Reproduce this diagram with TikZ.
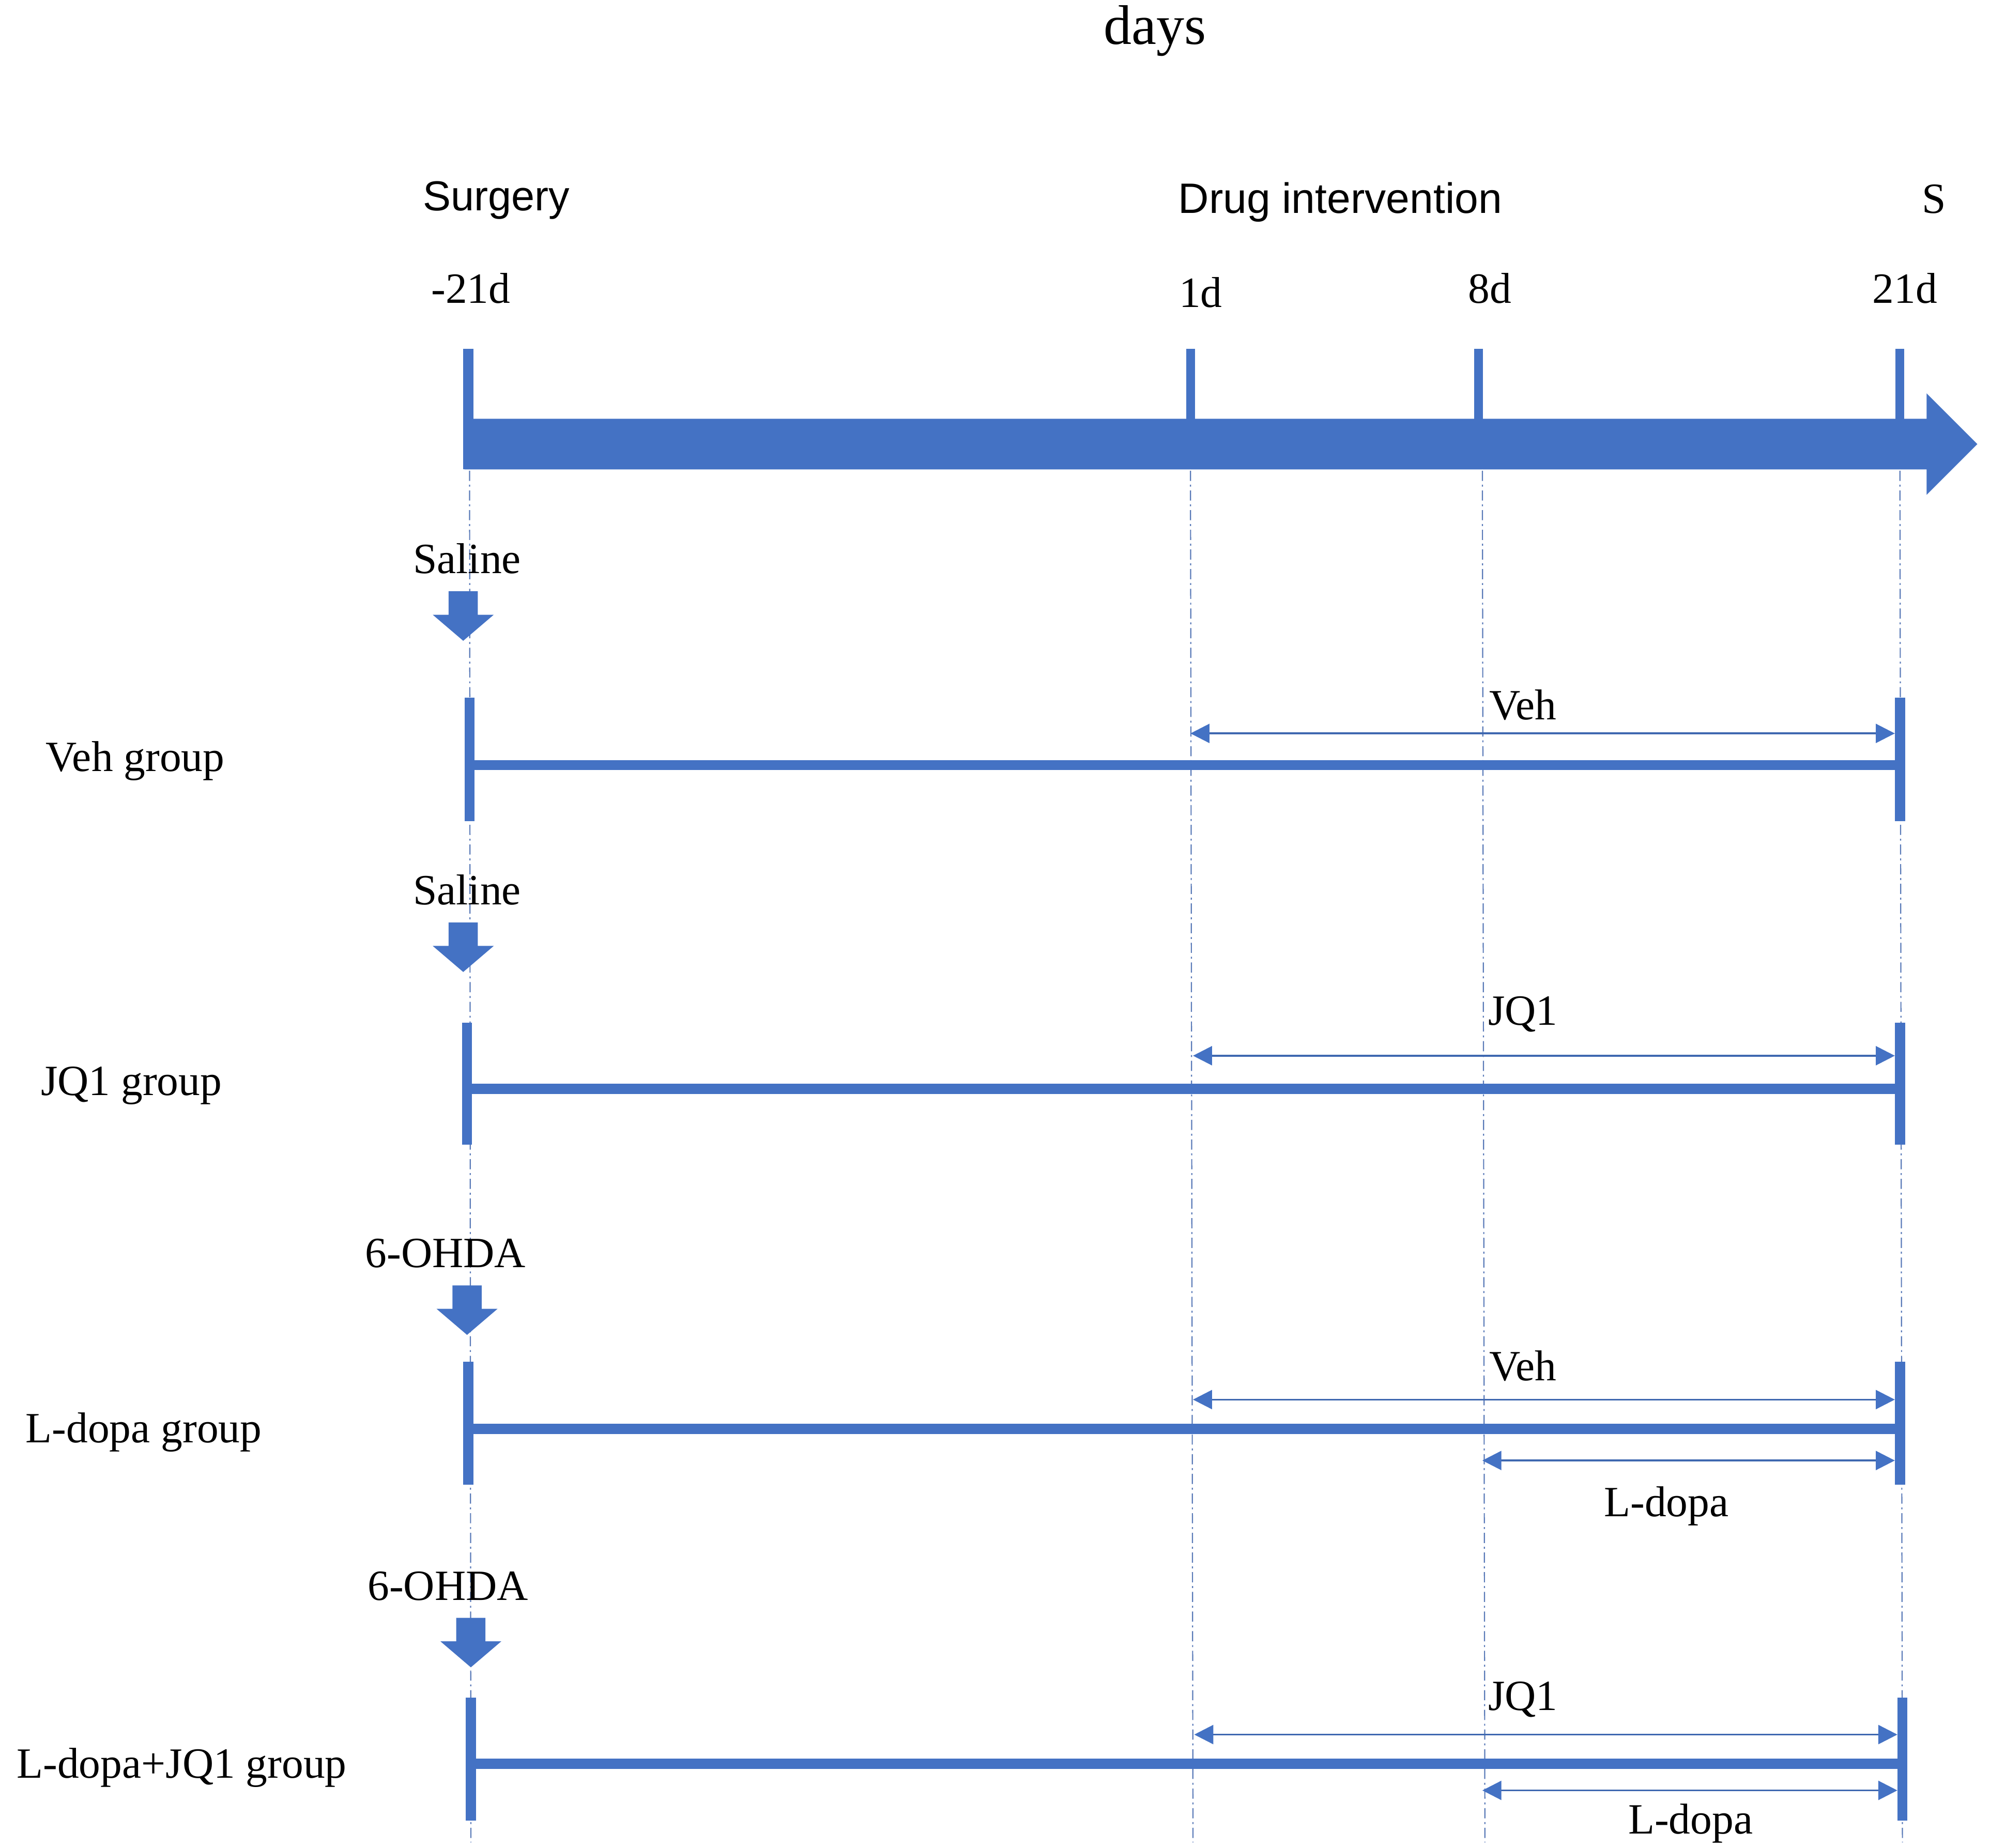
\documentclass[tikz,border=0pt]{standalone}
\usepackage{fontspec}
\setmainfont{Liberation Serif}
\newfontfamily\sansf{Liberation Sans}
\usetikzlibrary{arrows.meta}
\definecolor{tlblue}{HTML}{4472C4}
\definecolor{guidec}{HTML}{5B7BB8}
\definecolor{spanc}{HTML}{3F68B0}
\begin{document}
\begin{tikzpicture}[x=1pt,y=-1pt,
 txt/.style={font=\fontsize{34}{40}\selectfont, inner sep=0pt, anchor=base},
 bigtxt/.style={font=\fontsize{44}{52}\selectfont, inner sep=0pt, anchor=base},
 stxt/.style={font=\sansf\fontsize{33}{40}\selectfont, inner sep=0pt, anchor=base},
 guide/.style={draw=guidec, line width=0.9pt, dash pattern=on 8pt off 3pt on 1.5pt off 3pt},
 bar/.style={draw=tlblue, line width=8pt},
 tickmark/.style={draw=tlblue, line width=8pt},
 maintick/.style={draw=tlblue, line width=7pt},
 span/.style={draw=spanc, line width=1.4pt, {Triangle[length=15pt,width=15pt,fill=tlblue,color=tlblue]}-{Triangle[length=15pt,width=15pt,fill=tlblue,color=tlblue]}},
 downarr/.pic={\fill[tlblue] (-11.5,0) -- (11.5,0) -- (11.5,18.5) -- (24,18.5) -- (0,39) -- (-24,18.5) -- (-11.5,18.5) -- cycle;}
]
\useasboundingbox (0,0) rectangle (1568,1456);

% title and header labels
\node[bigtxt] (days) at (910,35) {days};
\node[stxt] (surg) at (391,166) {Surgery};
\node[stxt, font=\sansf\fontsize{33.5}{40}\selectfont] (drug) at (1056,168) {Drug intervention};
\node[txt] (S) at (1524,168) {S};
\node[txt] (dm21) at (371,239) {-21d};
\node[txt] (d1) at (946,242) {1d};
\node[txt] (d8) at (1174,239) {8d};
\node[txt] (d21) at (1501,239) {21d};

% main time arrow
\fill[tlblue] (366,330) -- (1518,330) -- (1518,310) -- (1558,350) -- (1518,390) -- (1518,370) -- (366,370) -- cycle;
\fill[tlblue] (365,275) rectangle (373,370);
\draw[maintick] (938,275) -- (938,331);
\draw[maintick] (1165,275) -- (1165,331);
\draw[maintick] (1497,275) -- (1497,331);

% vertical guide lines
\coordinate (vA1) at (370,371); \coordinate (vA2) at (371,1452);
\coordinate (vB1) at (938,371); \coordinate (vB2) at (940,1452);
\coordinate (vC1) at (1168,371); \coordinate (vC2) at (1170,1452);
\coordinate (vD1) at (1497,371); \coordinate (vD2) at (1499,1452);
\draw[guide] (vA1) -- (vA2);
\draw[guide] (vB1) -- (vB2);
\draw[guide] (vC1) -- (vC2);
\draw[guide] (vD1) -- (vD2);

% ---- Veh group
\node[txt] (sal1) at (368,452) {Saline};
\pic at (365,466) {downarr};
\node[txt, anchor=base west] (g1lab) at (36,608) {Veh group};
\coordinate (g1l) at (370,603); \coordinate (g1r) at (1497,603);
\draw[bar] (g1l) -- (g1r);
\draw[tickmark] (370,550) -- (370,647);
\draw[tickmark] (1497,550) -- (1497,647);
\coordinate (g1a) at (938,578); \coordinate (g1b) at (1493,578);
\draw[span] (g1a) -- (g1b);
\node[txt] (g1veh) at (1200,567) {Veh};

% ---- JQ1 group
\node[txt] (sal2) at (368,713) {Saline};
\pic at (365,727) {downarr};
\node[txt, anchor=base west] (g2lab) at (32,863) {JQ1 group};
\coordinate (g2l) at (368,858); \coordinate (g2r) at (1497,858);
\draw[bar] (g2l) -- (g2r);
\draw[tickmark] (368,806) -- (368,902);
\draw[tickmark] (1497,806) -- (1497,902);
\coordinate (g2a) at (940,832); \coordinate (g2b) at (1493,832);
\draw[span] (g2a) -- (g2b);
\node[txt] (g2jq) at (1200,808) {JQ1};

% ---- L-dopa group
\node[txt] (oh1) at (351,999) {6-OHDA};
\pic at (368,1013) {downarr};
\node[txt, anchor=base west] (g3lab) at (20,1137) {L-dopa group};
\coordinate (g3l) at (369,1126); \coordinate (g3r) at (1497,1126);
\draw[bar] (g3l) -- (g3r);
\draw[tickmark] (369,1073) -- (369,1170);
\draw[tickmark] (1497,1073) -- (1497,1170);
\coordinate (g3a) at (940,1103); \coordinate (g3b) at (1493,1103);
\draw[span] (g3a) -- (g3b);
\node[txt] (g3veh) at (1200,1088) {Veh};
\coordinate (g3c) at (1168,1151); \coordinate (g3d) at (1493,1151);
\draw[span] (g3c) -- (g3d);
\node[txt] (g3ld) at (1313,1195) {L-dopa};

% ---- L-dopa+JQ1 group
\node[txt] (oh2) at (353,1261) {6-OHDA};
\pic at (371,1275) {downarr};
\node[txt, anchor=base west] (g4lab) at (13,1401) {L-dopa+JQ1 group};
\coordinate (g4l) at (371,1390); \coordinate (g4r) at (1499,1390);
\draw[bar] (g4l) -- (g4r);
\draw[tickmark] (371,1338) -- (371,1435);
\draw[tickmark] (1499,1338) -- (1499,1435);
\coordinate (g4a) at (941,1367); \coordinate (g4b) at (1495,1367);
\draw[span] (g4a) -- (g4b);
\node[txt] (g4jq) at (1200,1348) {JQ1};
\coordinate (g4c) at (1168,1411); \coordinate (g4d) at (1495,1411);
\draw[span] (g4c) -- (g4d);
\node[txt] (g4ld) at (1332,1445) {L-dopa};
\end{tikzpicture}
\end{document}
